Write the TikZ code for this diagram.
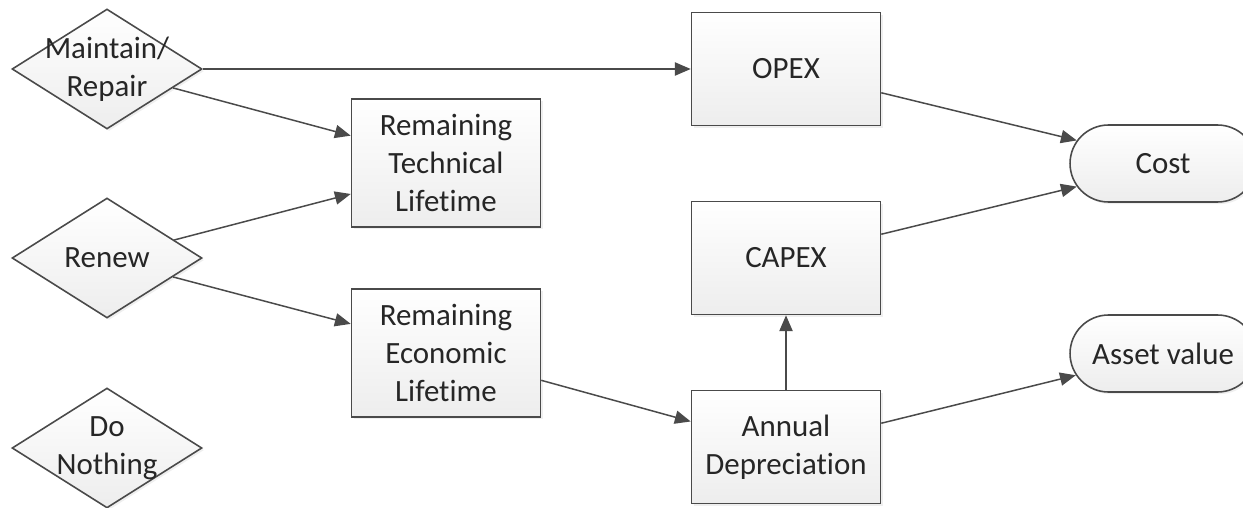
\documentclass[tikz,border=0pt]{standalone}
\usepackage{fontspec}
\setmainfont[Ligatures=NoCommon, Contextuals=NoAlternate]{Carlito}
\usetikzlibrary{shapes.geometric,shapes.misc,arrows.meta,shadows}
\definecolor{edge}{HTML}{4A4A4A}
\definecolor{ink}{HTML}{262626}
\tikzset{
  base/.style={draw=edge, line width=0.9pt, top color=white, bottom color=black!7,
    text=ink, align=center, inner sep=0pt,
    drop shadow={shadow xshift=1.2pt, shadow yshift=-1.2pt, fill=black!12}},
  choice/.style={base, shape=diamond, minimum width=3.8cm, minimum height=2.4cm},
  box/.style={base, rectangle, minimum width=3.78cm, minimum height=2.26cm},
  tallbox/.style={box, minimum height=2.56cm},
  result/.style={base, rounded rectangle, minimum width=3.72cm, minimum height=1.54cm},
  txt/.style={text=ink, align=center},
  flow/.style={draw=edge, line width=0.85pt, -{Triangle[length=9pt,width=7.5pt]}}
}

\begin{document}
\begin{tikzpicture}[x=0.02cm, y=-0.02cm, font=\fontsize{17.6}{21.6}\selectfont]
   \useasboundingbox (0,0) rectangle (1243,507);
   % decisions
   \node[choice, label={[txt]center:{Maintain/\\Repair}}] (mr) at (107,69) {};
   \node[choice, label={[txt]center:{Renew}}] (rn) at (107,258) {};
   \node[choice, label={[txt]center:{Do\\Nothing}}] (dn) at (107,448) {};
   % lifetimes
   \node[tallbox] (rtl) at (446,163) {Remaining\\Technical\\Lifetime};
   \node[tallbox] (rel) at (446,353) {Remaining\\Economic\\Lifetime};
   % costs
   \node[box] (ox) at (786,69) {OPEX};
   \node[box] (cx) at (786,258) {CAPEX};
   \node[box] (ad) at (786,447) {Annual\\Depreciation};
   \node[result] (cost) at (1163,163.5) {Cost};
   \node[result] (av) at (1163,353.5) {Asset value};
   % connectors
   \draw[flow] (mr.east) -- (ox.west);
   \draw[flow] (mr.-16) -- (rtl.164);
   \draw[flow] (rn.15) -- (rtl.198);
   \draw[flow] (rn.-16) -- (rel.163);
   \draw[flow] (rel.-16) -- (ad.165);
   \draw[flow] (ad.north) -- (cx.south);
   \draw[flow] (ox.-14) -- (cost.165);
   \draw[flow] (cx.14) -- (cost.195);
   \draw[flow] (ad.14) -- (av.194);
\end{tikzpicture}
\end{document}
